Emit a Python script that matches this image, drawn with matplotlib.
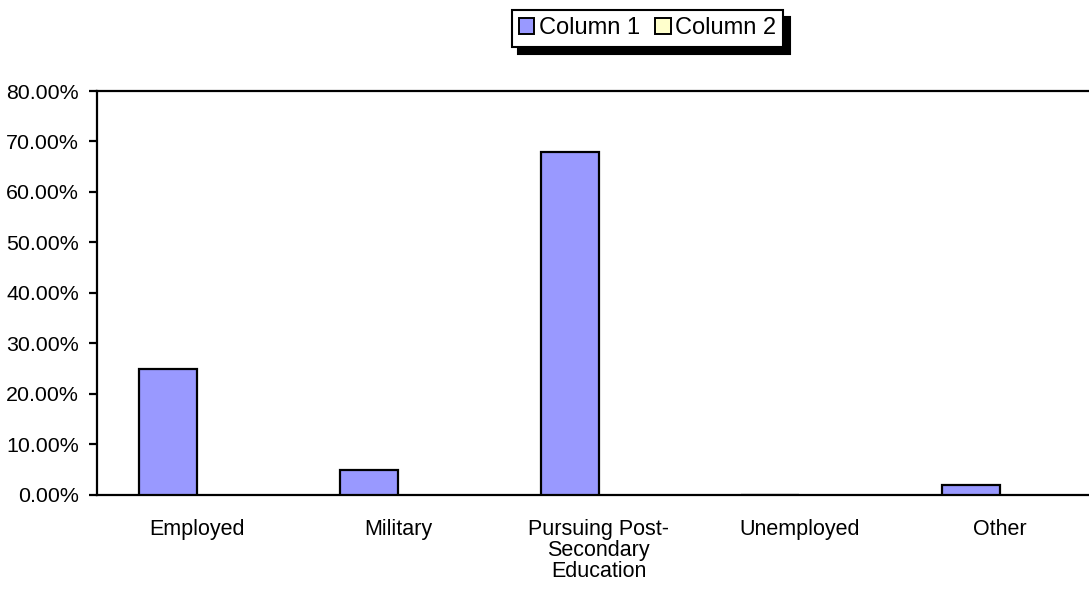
import matplotlib
matplotlib.use("Agg")
import matplotlib.pyplot as plt
from matplotlib.patches import Patch
from matplotlib.ticker import FuncFormatter
import numpy as np

plt.rcParams["font.family"] = ["Liberation Sans", "DejaVu Sans"]

CATEGORIES = ["Employed", "Military", "Pursuing Post-\nSecondary\nEducation", "Unemployed", "Other"]
COLUMN_1 = [25.0, 5.0, 68.0, 0.0, 2.0]
COLUMN_2 = [0.0, 0.0, 0.0, 0.0, 0.0]
SERIES_NAMES = ["Column 1", "Column 2"]
COLORS = ["#9999ff", "#ffffcc"]
Y_TICKS = [0, 10, 20, 30, 40, 50, 60, 70, 80]

fig = plt.figure(figsize=(10.89, 5.89), dpi=100)
ax = fig.add_axes([0.0891, 0.1596, 0.9215, 0.6859])

x = np.arange(len(CATEGORIES))
w = 0.289
ax.bar(x - w / 2, COLUMN_1, width=w, color=COLORS[0], edgecolor="black", linewidth=1.6, zorder=3)

ax.set_xlim(-0.5, len(CATEGORIES) - 0.5)
ax.set_ylim(0, 80)
ax.set_yticks(Y_TICKS)
ax.yaxis.set_major_formatter(FuncFormatter(lambda v, _: f"{v:.2f}%"))
ax.set_xticks(x)
ax.set_xticklabels(CATEGORIES, fontsize=15.5, linespacing=1.0)
ax.tick_params(axis="x", length=0, pad=17)
ax.tick_params(axis="y", direction="out", length=6, width=1.6, labelsize=15.4, pad=7)

for side in ["left", "top", "bottom"]:
    ax.spines[side].set_linewidth(1.6)
    ax.spines[side].set_color("black")
ax.spines["right"].set_visible(False)

handles = [Patch(facecolor=c, edgecolor="black", linewidth=1.4) for c in COLORS]
leg = fig.legend(handles, SERIES_NAMES, loc="center", bbox_to_anchor=(647.5 / 1089, 1 - 28.5 / 589),
                 ncol=2, fontsize=17, frameon=True, fancybox=False, edgecolor="black",
                 framealpha=1, handlelength=0.65, handleheight=0.65, handletextpad=0.2,
                 columnspacing=0.65, borderpad=0.3, borderaxespad=0,
                 shadow={"color": "black", "alpha": 1, "ox": 4.5, "oy": -5})
leg.get_frame().set_linewidth(1.5)

fig.savefig("out.png", dpi=100)
